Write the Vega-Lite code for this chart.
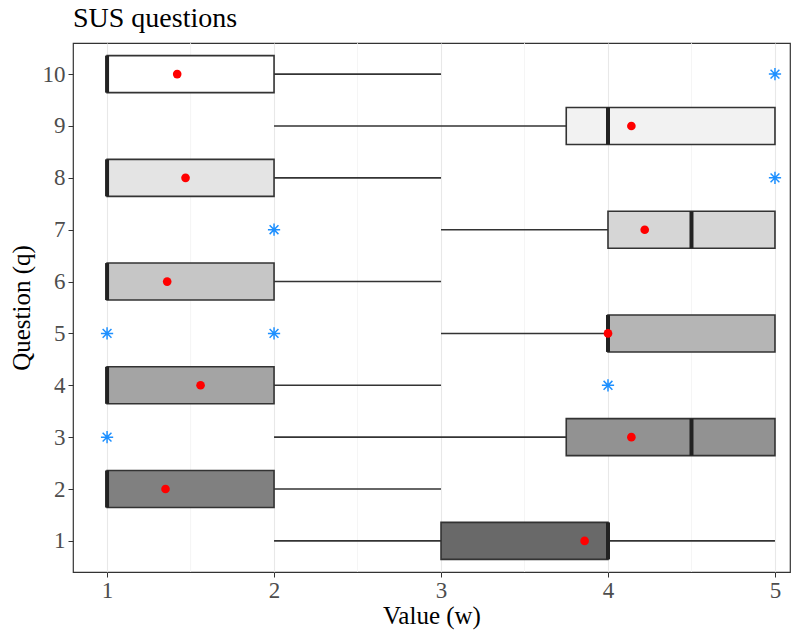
{
  "$schema": "https://vega.github.io/schema/vega-lite/v6.json",
  "autosize": "none",
  "width": 717,
  "height": 529,
  "padding": {"left": 73, "top": 43, "right": 10, "bottom": 58},
  "background": "white",
  "config": {
    "font": "Liberation Serif",
    "view": {"stroke": "#333333", "strokeWidth": 1.2},
    "axis": {
      "labelFont": "Liberation Serif",
      "titleFont": "Liberation Serif",
      "labelFontSize": 23,
      "titleFontSize": 25,
      "labelColor": "#4d4d4d",
      "titleColor": "#000000",
      "titleFontWeight": "normal",
      "tickColor": "#333333",
      "tickSize": 5,
      "domain": false,
      "gridColor": "#e8e8e8",
      "gridWidth": 1.1
    }
  },
  "title": {
    "text": "SUS questions",
    "anchor": "start",
    "frame": "group",
    "font": "Liberation Serif",
    "fontSize": 28,
    "fontWeight": "normal",
    "color": "#000000",
    "offset": 10
  },
  "datasets": {
    "stats": [
      {"q": 1, "lower": 2, "q1": 3, "median": 4, "q3": 4, "upper": 5, "mean": 3.86},
      {"q": 2, "lower": 1, "q1": 1, "median": 1, "q3": 2, "upper": 3, "mean": 1.35},
      {"q": 3, "lower": 2, "q1": 3.75, "median": 4.5, "q3": 5, "upper": 5, "mean": 4.14},
      {"q": 4, "lower": 1, "q1": 1, "median": 1, "q3": 2, "upper": 3, "mean": 1.56},
      {"q": 5, "lower": 3, "q1": 4, "median": 4, "q3": 5, "upper": 5, "mean": 4.0},
      {"q": 6, "lower": 1, "q1": 1, "median": 1, "q3": 2, "upper": 3, "mean": 1.36},
      {"q": 7, "lower": 3, "q1": 4, "median": 4.5, "q3": 5, "upper": 5, "mean": 4.22},
      {"q": 8, "lower": 1, "q1": 1, "median": 1, "q3": 2, "upper": 3, "mean": 1.47},
      {"q": 9, "lower": 2, "q1": 3.75, "median": 4, "q3": 5, "upper": 5, "mean": 4.14},
      {"q": 10, "lower": 1, "q1": 1, "median": 1, "q3": 2, "upper": 3, "mean": 1.42}
    ],
    "outliers": [
      {"q": 3, "value": 1},
      {"q": 4, "value": 4},
      {"q": 5, "value": 1},
      {"q": 5, "value": 2},
      {"q": 7, "value": 2},
      {"q": 8, "value": 5},
      {"q": 10, "value": 5}
    ],
    "minor": [{"x": 1.5}, {"x": 2.5}, {"x": 3.5}, {"x": 4.5}]
  },
  "layer": [
    {
      "data": {"name": "minor"},
      "mark": {"type": "rule", "color": "#f2f2f2", "strokeWidth": 0.8},
      "encoding": {
        "x": {"field": "x", "type": "quantitative", "scale": {"domain": [0.796, 5.09], "nice": false, "zero": false}}
      }
    },
    {
      "data": {"name": "stats"},
      "layer": [
        {
          "mark": {"type": "rule", "color": "#333333", "strokeWidth": 1.6},
          "encoding": {
            "x": {
              "field": "lower", "type": "quantitative",
              "scale": {"domain": [0.796, 5.09], "nice": false, "zero": false},
              "axis": {"values": [1, 2, 3, 4, 5], "format": "d", "title": "Value (w)", "titlePadding": 1, "labelPadding": 2}
            },
            "x2": {"field": "upper"},
            "y": {
              "field": "q", "type": "ordinal", "sort": "descending",
              "scale": {"type": "point", "padding": 0.6},
              "axis": {"title": "Question (q)", "labelAngle": 0, "titlePadding": 8, "labelPadding": 3}
            }
          }
        },
        {
          "mark": {"type": "bar", "height": 37, "stroke": "#333333", "strokeWidth": 1.6},
          "encoding": {
            "x": {"field": "q1", "type": "quantitative"},
            "x2": {"field": "q3"},
            "y": {"field": "q", "type": "ordinal", "sort": "descending"},
            "fill": {
              "field": "q", "type": "ordinal", "legend": null,
              "scale": {
                "domain": [1, 2, 3, 4, 5, 6, 7, 8, 9, 10],
                "range": ["#696969", "#808080", "#929292", "#a4a4a4", "#b5b5b5", "#c6c6c6", "#d6d6d6", "#e4e4e4", "#f2f2f2", "#ffffff"]
              }
            }
          }
        },
        {
          "mark": {"type": "tick", "orient": "vertical", "size": 37, "thickness": 4, "color": "#222222", "opacity": 1},
          "encoding": {
            "x": {"field": "median", "type": "quantitative"},
            "y": {"field": "q", "type": "ordinal", "sort": "descending"}
          }
        },
        {
          "mark": {"type": "circle", "color": "#ff0000", "size": 75, "opacity": 1},
          "encoding": {
            "x": {"field": "mean", "type": "quantitative"},
            "y": {"field": "q", "type": "ordinal", "sort": "descending"}
          }
        }
      ]
    },
    {
      "data": {"name": "outliers"},
      "mark": {
        "type": "point",
        "shape": "M-1,0L1,0M0,-1L0,1M-0.72,-0.72L0.72,0.72M-0.72,0.72L0.72,-0.72",
        "filled": false,
        "stroke": "#1e90ff",
        "strokeWidth": 1.5,
        "size": 150,
        "opacity": 1
      },
      "encoding": {
        "x": {"field": "value", "type": "quantitative"},
        "y": {"field": "q", "type": "ordinal", "sort": "descending"}
      }
    }
  ]
}
